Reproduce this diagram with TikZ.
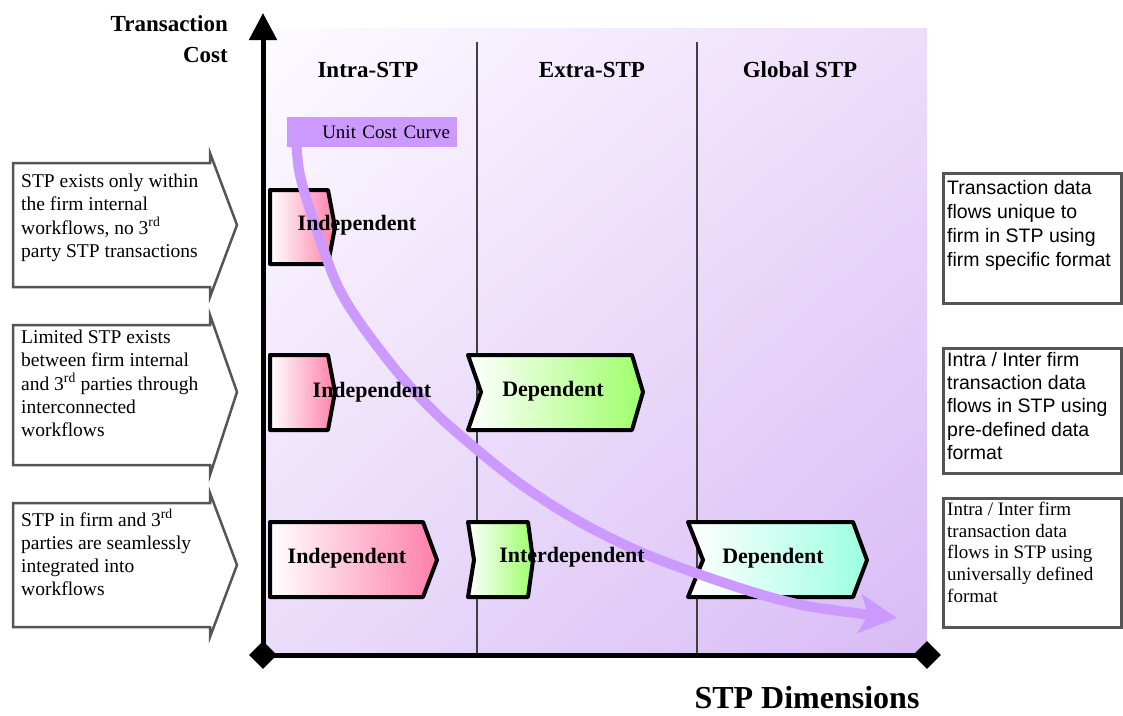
\documentclass[tikz,border=0pt]{standalone}
\usepackage{fontspec}
\setmainfont{Liberation Serif}
\newfontfamily\arialfont{Liberation Sans}
\usetikzlibrary{arrows.meta,shapes.geometric,shadings}

\definecolor{curvepurple}{HTML}{CC99FF}
\definecolor{tagpink}{HTML}{FF7FAA}
\definecolor{taggreen}{HTML}{9EFF6A}
\definecolor{tagcyan}{HTML}{9DFFE0}
\definecolor{boxgray}{HTML}{555555}
\definecolor{panelUL}{HTML}{FDFBFF}
\definecolor{panelUR}{HTML}{EDDDFB}
\definecolor{panelLL}{HTML}{EBDCFA}
\definecolor{panelLR}{HTML}{D8BBF5}

\tikzset{
  tagtext/.style={font=\fontsize{22}{26}\selectfont\bfseries, inner sep=0pt},
  headtext/.style={font=\fontsize{23}{31}\selectfont\bfseries, inner sep=0pt},
  sidenote/.style={font=\fontsize{19.5}{23.2}\selectfont, align=left, anchor=north west, inner sep=0pt},
  tagshape/.style={draw=black, line width=4pt, line join=round, left color=white, right color=#1},
  axisdiamond/.style={diamond, fill=black, minimum size=28pt, inner sep=0pt},
}

\begin{document}
\begin{tikzpicture}[x=1pt,y=-1pt]
    \useasboundingbox (0,0) rectangle (1123,715);

    % Background panel
    \shade[upper left=panelUL, upper right=panelUR, lower left=panelLL, lower right=panelLR]
        (263,28) rectangle (927,655);

    % Column dividers
    \foreach \x in {477,697} {
        \draw[line width=1.5pt, black!75] (\x,42) -- (\x,655);
    }

    % Axes
    \coordinate (origin) at (263,655);
    \coordinate (ytop) at (263,13);
    \coordinate (xend) at (927,655);
    \draw[line width=5pt, -{Triangle[length=27pt,width=27pt]}] (origin) -- (ytop);
    \draw[line width=5pt] (origin) -- (xend);
    \node[axisdiamond] (corner) at (origin) {};
    \node[axisdiamond] (xtip) at (xend) {};

    % Left notes (box with arrow head)
    \foreach \t/\b/\m in {163/287/225, 325/465/392, 503/627/565} {
        \draw[boxgray, line width=2.5pt, fill=white]
            (13,\t) -- (210,\t) -- (210,\t-10) -- (237,\m) -- (210,\b+10) -- (210,\b) -- (13,\b) -- cycle;
    }

    % Right notes
    \foreach \t/\b in {173/303, 348/473, 498/627} {
        \draw[boxgray, line width=3pt, fill=white] (943,\t) rectangle (1121,\b);
    }

    % Tag shapes
    \path[tagshape=tagpink] (270,190) -- (328,190) -- (335,227) -- (328,264) -- (270,264) -- cycle;
    \path[tagshape=tagpink] (270,355) -- (328,355) -- (335,392) -- (328,430) -- (270,430) -- cycle;
    \path[tagshape=tagpink] (270,522) -- (423,522) -- (437,560) -- (423,597) -- (270,597) -- cycle;
    \path[tagshape=taggreen] (468,355) -- (632,355) -- (643,392) -- (632,430) -- (468,430) -- (481,392) -- cycle;
    \path[tagshape=taggreen] (468,522) -- (528,522) -- (533,560) -- (528,597) -- (468,597) -- (474,560) -- cycle;
    \path[tagshape=tagcyan] (688,522) -- (853,522) -- (867,560) -- (853,597) -- (688,597) -- (703,560) -- cycle;

    % Unit cost curve
    \draw[curvepurple, line width=10pt, -{Stealth[length=38pt,width=40pt,inset=9pt,line width=0pt]}]
        plot[smooth] coordinates {(295,125) (299,170) (310,210) (335,280) (358,320) (400,375)
            (445,422) (515,480) (580,522) (650,556) (740,588) (807,606) (897,618)};
    \node[fill=curvepurple, minimum height=30pt, text width=156pt, inner xsep=7pt, inner ysep=0pt,
        align=right, font=\fontsize{19}{22}\selectfont] (costlabel) at (372,132) {Unit Cost Curve};

    % Tag labels
    \node[tagtext] (ind1) at (357,225) {Independent};
    \node[tagtext] (ind2) at (372,392) {Independent};
    \node[tagtext] (ind3) at (347,558) {Independent};
    \node[tagtext] (dep2) at (553,391) {Dependent};
    \node[tagtext] (interdep) at (572,557) {Interdependent};
    \node[tagtext] (dep3) at (773,558) {Dependent};

    % Column heads and axis labels
    \node[headtext] (intra) at (368,70) {Intra-STP};
    \node[headtext] (extra) at (592,70) {Extra-STP};
    \node[headtext] (global) at (800,70) {Global STP};
    \node[headtext, align=right, anchor=east] (ylabel) at (228,39) {Transaction\\Cost};
    \node[font=\fontsize{32}{36}\selectfont\bfseries, inner sep=0pt] (xlabel) at (807,698) {STP Dimensions};

    % Note texts
    \node[sidenote] (note1) at (21,174) {STP exists only within\\the firm internal\\workflows, no 3\textsuperscript{rd}\\party STP transactions};
    \node[sidenote] (note2) at (21,330) {Limited STP exists\\between firm internal\\and 3\textsuperscript{rd} parties through\\interconnected\\workflows};
    \node[sidenote] (note3) at (21,509) {STP in firm and 3\textsuperscript{rd}\\parties are seamlessly\\integrated into\\workflows};
    \node[sidenote, font=\arialfont\fontsize{19.5}{24}\selectfont] (flow1) at (947,180) {Transaction data\\flows unique to\\firm in STP using\\firm specific format};
    \node[sidenote, font=\arialfont\fontsize{19.5}{23.3}\selectfont] (flow2) at (947,352) {Intra / Inter firm\\transaction data\\flows in STP using\\pre-defined data\\format};
    \node[sidenote, font=\fontsize{19}{21.7}\selectfont] (flow3) at (947,502) {Intra / Inter firm\\transaction data\\flows in STP using\\universally defined\\format};
\end{tikzpicture}
\end{document}
